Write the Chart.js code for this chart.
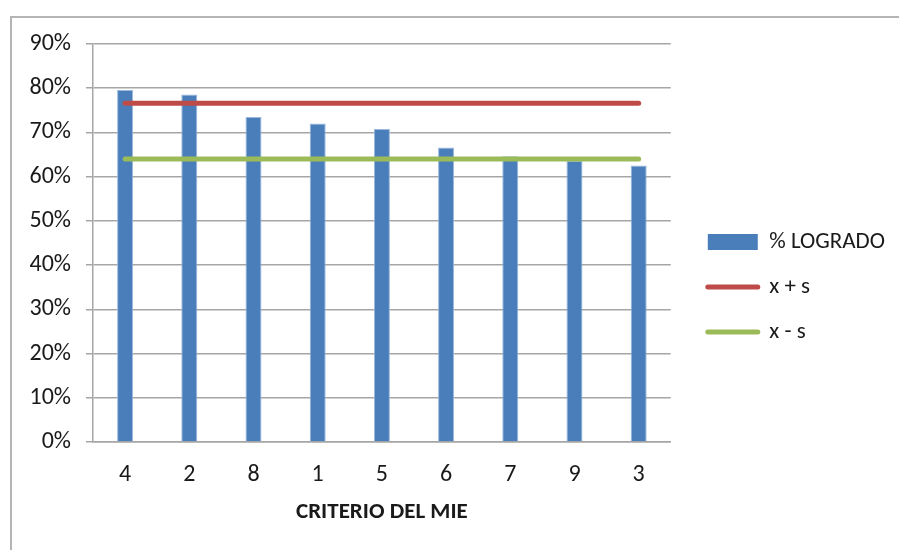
<!DOCTYPE html>
<html lang="es">
<head>
  <meta charset="UTF-8" />
  <title>% Logrado por criterio del MIE</title>
  <script src="https://cdn.jsdelivr.net/npm/chart.js"></script>
  <style>
    body { margin: 0; background: #fff; }
    .wrap { position: relative; width: 899px; height: 550px; overflow: hidden; }
    .frame { position: absolute; left: 10px; top: 16px; width: 1000px; height: 700px; border: 2px solid #b4b4b4; }
    canvas { position: absolute; left: 0; top: 0; }
  </style>
</head>
<body>
  <div class="wrap">
    <div class="frame"></div>
    <canvas id="logroChart" width="899" height="550"></canvas>
  </div>

  <script>
    // datos
    const criterios = ['4', '2', '8', '1', '5', '6', '7', '9', '3'];
    const logrado = [79.6, 78.6, 73.5, 72.0, 70.8, 66.6, 64.6, 63.6, 62.5];
    const xMasS = [76.6, 76.6, 76.6, 76.6, 76.6, 76.6, 76.6, 76.6, 76.6];
    const xMenosS = [64.0, 64.0, 64.0, 64.0, 64.0, 64.0, 64.0, 64.0, 64.0];
    const yTicks = [0, 10, 20, 30, 40, 50, 60, 70, 80, 90];

    const gris = '#a6a6a6';
    const fuente = 'Carlito, Lato, "Liberation Sans", sans-serif';

    // mueve la leyenda un poco a la derecha
    const moverLeyenda = {
      id: 'moverLeyenda',
      afterLayout(chart) {
        chart.legend.left += 15;
        chart.legend.right += 15;
      }
    };

    new Chart(document.getElementById('logroChart'), {
      data: {
        labels: criterios,
        datasets: [
          {
            type: 'bar',
            label: '% LOGRADO',
            data: logrado,
            backgroundColor: '#4a7ebb',
            borderColor: '#9bb9dd',
            borderWidth: 1,
            barPercentage: 0.25,
            categoryPercentage: 1,
            order: 2
          },
          {
            type: 'line',
            label: 'x + s',
            data: xMasS,
            borderColor: '#be4b48',
            borderWidth: 5,
            borderCapStyle: 'round',
            pointRadius: 0,
            fill: false,
            order: 0
          },
          {
            type: 'line',
            label: 'x - s',
            data: xMenosS,
            borderColor: '#9bbb59',
            borderWidth: 5,
            borderCapStyle: 'round',
            pointRadius: 0,
            fill: false,
            order: 1
          }
        ]
      },
      options: {
        responsive: false,
        animation: false,
        layout: { padding: { left: 0, top: 44, right: 19, bottom: 20 } },
        plugins: {
          tooltip: { enabled: false },
          legend: {
            position: 'right',
            labels: {
              color: '#1a1a1a',
              font: { family: fuente, size: 23 },
              padding: 22,
              boxWidth: 50,
              boxHeight: 16,
              usePointStyle: true,
              pointStyleWidth: 50,
              generateLabels(chart) {
                return chart.data.datasets.map((ds, i) => ({
                  text: ds.label,
                  datasetIndex: i,
                  pointStyle: ds.type === 'bar' ? 'rect' : 'line',
                  fillStyle: ds.type === 'bar' ? ds.backgroundColor : ds.borderColor,
                  strokeStyle: ds.type === 'bar' ? ds.backgroundColor : ds.borderColor,
                  lineWidth: ds.type === 'bar' ? 0 : 5,
                  lineCap: 'round',
                  fontColor: '#1a1a1a',
                  hidden: false
                }));
              }
            }
          }
        },
        scales: {
          x: {
            grid: { display: false, drawTicks: false },
            border: { color: gris, width: 1.5 },
            ticks: { color: '#1a1a1a', font: { family: fuente, size: 24 }, padding: 19 },
            title: {
              display: true,
              text: 'CRITERIO DEL MIE',
              color: '#1a1a1a',
              font: { family: fuente, size: 23, weight: 'bold' },
              padding: { top: 0, bottom: 4 }
            },
            afterFit(s) { s.height = 88; }
          },
          y: {
            min: 0,
            max: 90,
            afterBuildTicks(s) { s.ticks = yTicks.map(v => ({ value: v })); },
            grid: { color: gris, lineWidth: 1.5, tickLength: 7 },
            border: { color: gris, width: 1.5 },
            ticks: {
              color: '#1a1a1a',
              font: { family: fuente, size: 24 },
              padding: 15,
              callback: v => v + '%'
            },
            afterFit(s) { s.width = 93; }
          }
        }
      },
      plugins: [moverLeyenda]
    });
  </script>
</body>
</html>
